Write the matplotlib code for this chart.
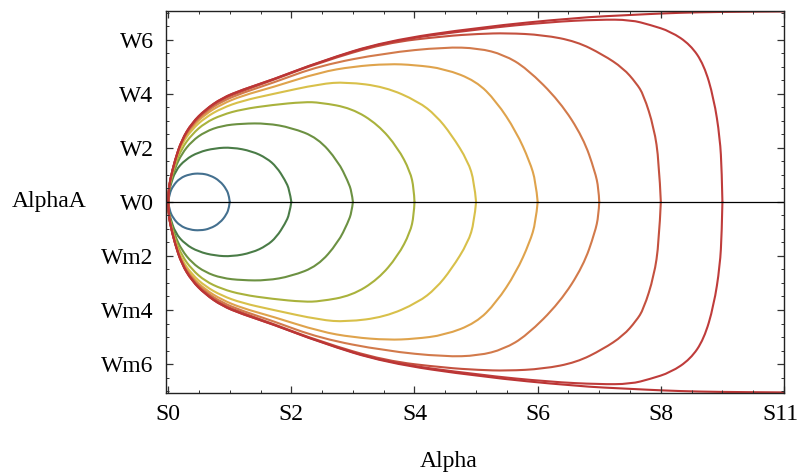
import matplotlib
matplotlib.use("Agg")
from matplotlib import pyplot as plt
from matplotlib.ticker import MultipleLocator
from matplotlib.path import Path
from matplotlib.patches import PathPatch
from matplotlib.transforms import ScaledTranslation

# upper halves of the loops (lower halves are mirrored)
loop1_x = [0, 0.02, 0.08, 0.19, 0.35, 0.52, 0.68, 0.84, 0.95, 0.99, 1.0]
loop1_y = [0, 0.30, 0.60, 0.88, 1.03, 1.06, 0.99, 0.78, 0.46, 0.20, 0]

loop2_x = [0, 0.008, 0.03, 0.114, 0.28, 0.49, 0.76, 1.04, 1.36, 1.6, 1.76, 1.9, 1.97, 2.0]
loop2_y = [0, 0.33, 0.55, 1.15, 1.57, 1.84, 1.99, 2.02, 1.88, 1.62, 1.30, 0.80, 0.45, 0]

loop3_x = [0, 0.008, 0.03, 0.11, 0.22, 0.385, 0.6, 0.87, 1.2, 1.6, 2.0, 2.43, 2.76, 2.92, 2.98, 3.0]
loop3_y = [0, 0.36, 0.62, 1.25, 1.78, 2.25, 2.60, 2.82, 2.90, 2.91, 2.75, 2.37, 1.50, 0.76, 0.38, 0]

loop4_x = [0, 0.008, 0.03, 0.11, 0.22, 0.385, 0.6, 0.87, 1.2, 1.69, 2.2, 2.47, 2.98, 3.41, 3.73, 3.93, 3.99, 4.0]
loop4_y = [0, 0.38, 0.70, 1.36, 1.98, 2.50, 2.93, 3.22, 3.43, 3.59, 3.70, 3.68, 3.47, 2.86, 2.00, 1.13, 0.50, 0]

loop5_x = [0, 0.008, 0.03, 0.11, 0.22, 0.385, 0.6, 0.87, 1.2, 1.69, 2.47, 2.89, 3.52, 4.06, 4.35, 4.6, 4.87, 4.97, 5.0]
loop5_y = [0, 0.40, 0.75, 1.47, 2.14, 2.68, 3.12, 3.47, 3.74, 3.99, 4.37, 4.44, 4.26, 3.72, 3.20, 2.49, 1.50, 0.75, 0]

loop6_x = [0, 0.008, 0.03, 0.11, 0.22, 0.385, 0.6, 0.87, 1.2, 1.69, 2.47, 3.0, 3.57, 4.0, 4.49, 5.0, 5.33, 5.65, 5.87, 5.97, 6.0]
loop6_y = [0, 0.41, 0.77, 1.51, 2.21, 2.78, 3.24, 3.62, 3.93, 4.24, 4.80, 5.01, 5.11, 5.07, 4.93, 4.48, 3.72, 2.61, 1.50, 0.75, 0]

loop7_x = [0, 0.008, 0.03, 0.11, 0.22, 0.385, 0.6, 0.87, 1.2, 1.69, 2.47, 3.52, 4.49, 5.04, 5.45, 5.82, 6.36, 6.74, 6.93, 6.99, 7.0]
loop7_y = [0, 0.42, 0.78, 1.53, 2.25, 2.84, 3.32, 3.72, 4.03, 4.40, 5.05, 5.51, 5.73, 5.69, 5.45, 4.95, 3.72, 2.37, 1.13, 0.50, 0]

loop8_x = [0, 0.008, 0.03, 0.11, 0.22, 0.385, 0.6, 0.87, 1.2, 1.69, 2.47, 3.52, 4.5, 5.04, 5.5, 6.09, 6.63, 7.06, 7.39, 7.6, 7.72, 7.89, 7.97, 8.0]
loop8_y = [0, 0.42, 0.79, 1.54, 2.28, 2.89, 3.38, 3.80, 4.10, 4.50, 5.17, 5.88, 6.14, 6.22, 6.25, 6.18, 5.94, 5.45, 4.95, 4.40, 3.97, 2.74, 1.50, 0]

loop9_x = [0, 0.008, 0.03, 0.11, 0.22, 0.385, 0.6, 0.87, 1.2, 1.69, 2.47, 3.52, 5.04, 6.2, 7.0, 7.51, 7.83, 8.16, 8.48, 8.70, 8.86, 8.96, 8.99, 9.0]
loop9_y = [0, 0.43, 0.80, 1.55, 2.30, 2.92, 3.41, 3.84, 4.15, 4.52, 5.19, 5.93, 6.40, 6.66, 6.75, 6.74, 6.55, 6.31, 5.82, 5.08, 3.84, 2.37, 1.13, 0]

loop10_x = [0, 0.008, 0.03, 0.11, 0.22, 0.385, 0.6, 0.87, 1.2, 1.69, 2.47, 3.52, 5.04, 6.63, 7.51, 8.05, 8.59, 9.3, 10.0]
loop10_y = [0, 0.43, 0.80, 1.55, 2.30, 2.92, 3.41, 3.84, 4.15, 4.52, 5.20, 5.95, 6.46, 6.82, 6.92, 6.98, 7.02, 7.04, 7.05]

loops = [
    (loop1_x, loop1_y), (loop2_x, loop2_y), (loop3_x, loop3_y),
    (loop4_x, loop4_y), (loop5_x, loop5_y), (loop6_x, loop6_y),
    (loop7_x, loop7_y), (loop8_x, loop8_y), (loop9_x, loop9_y),
    (loop10_x, loop10_y),
]
loop_colors = ["#44708f", "#4a7c47", "#6c9142", "#a9b23c", "#d8c04a",
               "#dfa34c", "#d27a4b", "#c4513f", "#bf3c3b", "#bb3535"]

x_ticks = [0, 2, 4, 6, 8, 10]
x_tick_labels = ["S0", "S2", "S4", "S6", "S8", "S11"]
y_ticks = [-6, -4, -2, 0, 2, 4, 6]
y_tick_labels = ["Wm6", "Wm4", "Wm2", "W0", "W2", "W4", "W6"]


def smooth_path(pts):
    # quadratic bezier through midpoints, control points are the read points
    verts = [pts[0]]
    codes = [Path.MOVETO]
    for i in range(1, len(pts) - 1):
        if i < len(pts) - 2:
            end = ((pts[i][0] + pts[i + 1][0]) / 2, (pts[i][1] + pts[i + 1][1]) / 2)
        else:
            end = pts[i + 1]
        verts += [pts[i], end]
        codes += [Path.CURVE3, Path.CURVE3]
    return Path(verts, codes)


plt.rcParams['font.family'] = ['Liberation Serif', 'DejaVu Serif']

fig = plt.figure(figsize=(8, 4.74), dpi=100)
ax = fig.add_axes([0.2075, 0.171, 0.7725, 0.806])

for (xs, ys), col in zip(loops, loop_colors):
    for sign in (1, -1):
        pts = [(x, sign * y) for x, y in zip(xs, ys)]
        ax.add_patch(PathPatch(smooth_path(pts), facecolor='none',
                               edgecolor=col, lw=1.5, capstyle='round'))

ax.axhline(0, color="black", lw=0.9)

ax.set_xlim(-0.035, 10.0)
ax.set_ylim(-7.07, 7.07)

ax.set_xticks(x_ticks)
ax.set_xticklabels(x_tick_labels)
ax.set_yticks(y_ticks)
ax.set_yticklabels(y_tick_labels)
ax.xaxis.set_minor_locator(MultipleLocator(0.5))
ax.yaxis.set_minor_locator(MultipleLocator(0.5))
ax.tick_params(which='both', direction='in', top=True, right=True,
               labelsize=17, color="#333333")
ax.tick_params(which='major', length=5, width=0.9)
ax.tick_params(which='minor', length=2.5, width=0.7)
ax.tick_params(axis='x', pad=8)
ax.tick_params(axis='y', pad=9)
for sp in ax.spines.values():
    sp.set_linewidth(1.0)
    sp.set_color("#222222")

# keep the last x label inside the canvas
last = ax.get_xticklabels()[-1]
last.set_transform(last.get_transform() + ScaledTranslation(-4 / 100, 0, fig.dpi_scale_trans))

fig.text(49 / 800, 1 - 202 / 474, "AlphaA", fontsize=17, ha='center', va='center')
fig.text(449 / 800, 1 - 462 / 474, "Alpha", fontsize=17, ha='center', va='center')

fig.savefig("out.png", dpi=100)
